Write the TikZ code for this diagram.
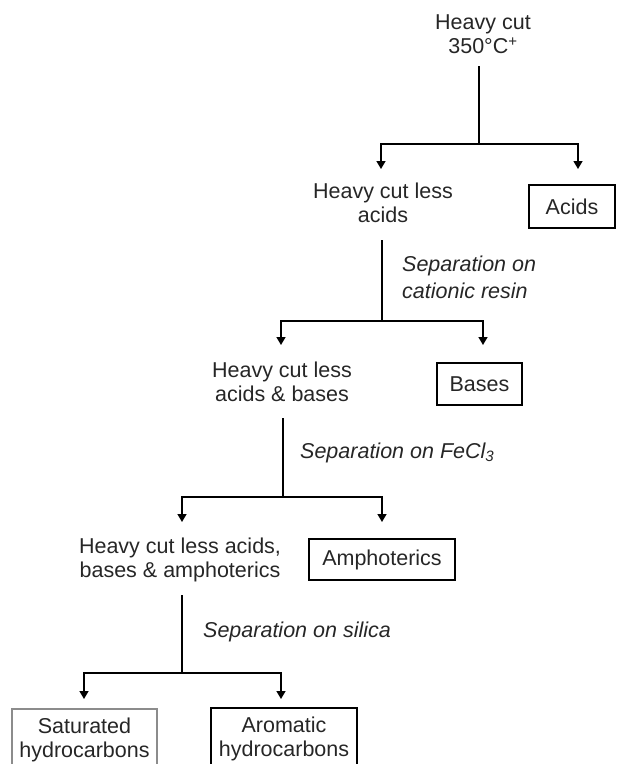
\documentclass[tikz,border=0pt]{standalone}
\usepackage{fontspec}
\setmainfont{Liberation Sans}
\usetikzlibrary{arrows.meta}
\begin{document}
\begin{tikzpicture}[x=1pt,y=-1pt,
  txt/.style={align=center,inner sep=0pt,font=\fontsize{21.5}{24.5}\selectfont,text=black!85},
  sep/.style={anchor=west,align=left,inner sep=0pt,font=\fontsize{21.5}{27}\selectfont\itshape,text=black!85},
  box/.style={draw,line width=1.3pt,align=center,inner sep=0pt,font=\fontsize{21.5}{24.5}\selectfont,text=black!85},
  ln/.style={line width=1.4pt},
  arr/.style={line width=1.4pt,-{Triangle[length=8pt,width=9pt]}}]
\useasboundingbox (0,0) rectangle (617,764);
\clip (0,0) rectangle (617,764);
% nodes
\node[txt] (n0) at (483,34) {Heavy cut\\350°C\textsuperscript{+}};
\node[txt] (n1) at (383,203) {Heavy cut less\\acids};
\node[box,minimum width=86pt,minimum height=43pt] (acids) at (572,206.5) {Acids};
\node[sep] (s1) at (402,277.5) {Separation on\\cationic resin};
\node[txt] (n2) at (282,382) {Heavy cut less\\acids \& bases};
\node[box,minimum width=85pt,minimum height=42pt] (bases) at (479.5,384) {Bases};
\node[sep] (s2) at (300,453) {Separation on FeCl\textsubscript{3}};
\node[txt] (n3) at (180,560) {Heavy cut less acids,\\bases \& amphoterics};
\node[box,minimum width=146pt,minimum height=41pt] (amph) at (382,559.5) {Amphoterics};
\node[sep] (s3) at (203,632) {Separation on silica};
\node[box,draw=black!45,minimum width=145pt,minimum height=62pt] (sat) at (84.5,740) {Saturated\\hydrocarbons};
\node[box,minimum width=146pt,minimum height=62pt] (aro) at (284,739) {Aromatic\\hydrocarbons};
% junction coordinates
\coordinate (a0) at (479,66);
\coordinate (j0) at (479,144);
\coordinate (t0l) at (381,169);
\coordinate (t0r) at (578,169);
\coordinate (a1) at (382,240);
\coordinate (j1) at (382,321);
\coordinate (t1l) at (281,345);
\coordinate (t1r) at (483,345);
\coordinate (a2) at (283,418);
\coordinate (j2) at (283,497);
\coordinate (t2l) at (182,522);
\coordinate (t2r) at (382,522);
\coordinate (a3) at (182,595);
\coordinate (j3) at (182,673);
\coordinate (t3l) at (84,699);
\coordinate (t3r) at (281,699);
% connectors
\draw[ln] (a0) -- (j0);
\draw[arr] (j0) -| (t0l);
\draw[arr] (j0) -| (t0r);
\draw[ln] (a1) -- (j1);
\draw[arr] (j1) -| (t1l);
\draw[arr] (j1) -| (t1r);
\draw[ln] (a2) -- (j2);
\draw[arr] (j2) -| (t2l);
\draw[arr] (j2) -| (t2r);
\draw[ln] (a3) -- (j3);
\draw[arr] (j3) -| (t3l);
\draw[arr] (j3) -| (t3r);
\end{tikzpicture}
\end{document}
